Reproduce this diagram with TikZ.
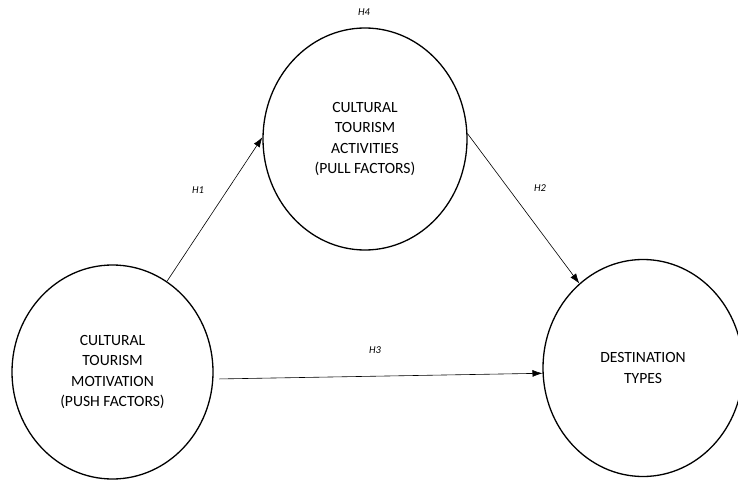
\documentclass[tikz,border=0pt]{standalone}
\usepackage{fontspec}
\setmainfont{Carlito}
\usetikzlibrary{arrows.meta,positioning,shapes.geometric}
\tikzset{
  factor/.style={draw, ellipse, line width=1.3pt, inner sep=0pt, align=center,
                 font=\fontsize{15.6}{20.5}\selectfont},
  hyparrow/.style={-{Latex[length=10pt,width=7pt]}, line width=0.6pt},
  hyplabel/.style={font=\fontsize{10.5}{12}\selectfont\itshape}
}

\begin{document}
\begin{tikzpicture}[x=1pt,y=-1pt]
    \useasboundingbox (0,0) rectangle (738,481);

    % Constructs
    \node[factor, minimum width=201pt, minimum height=214pt] (push) at (112.5,372)
      {CULTURAL\\TOURISM\\MOTIVATION\\(PUSH FACTORS)};
    \node[factor, minimum width=204pt, minimum height=222pt] (pull) at (365,139)
      {CULTURAL\\TOURISM\\ACTIVITIES\\(PULL FACTORS)};
    \node[factor, minimum width=200pt, minimum height=217pt] (dest) at (643,368)
      {DESTINATION\\TYPES};

    % Hypotheses
    \draw[hyparrow] (push.59) -- (pull.179);
    \draw[hyparrow] (pull.3) -- (dest.127);
    \draw[hyparrow, shorten <=6pt] (push.356) -- (dest.183);

    \node[hyplabel] (h1) at (198,190) {H1};
    \node[hyplabel] (h2) at (540,188) {H2};
    \node[hyplabel] (h3) at (375,350) {H3};
    \node[hyplabel] (h4) at (364,12) {H4};
\end{tikzpicture}
\end{document}
